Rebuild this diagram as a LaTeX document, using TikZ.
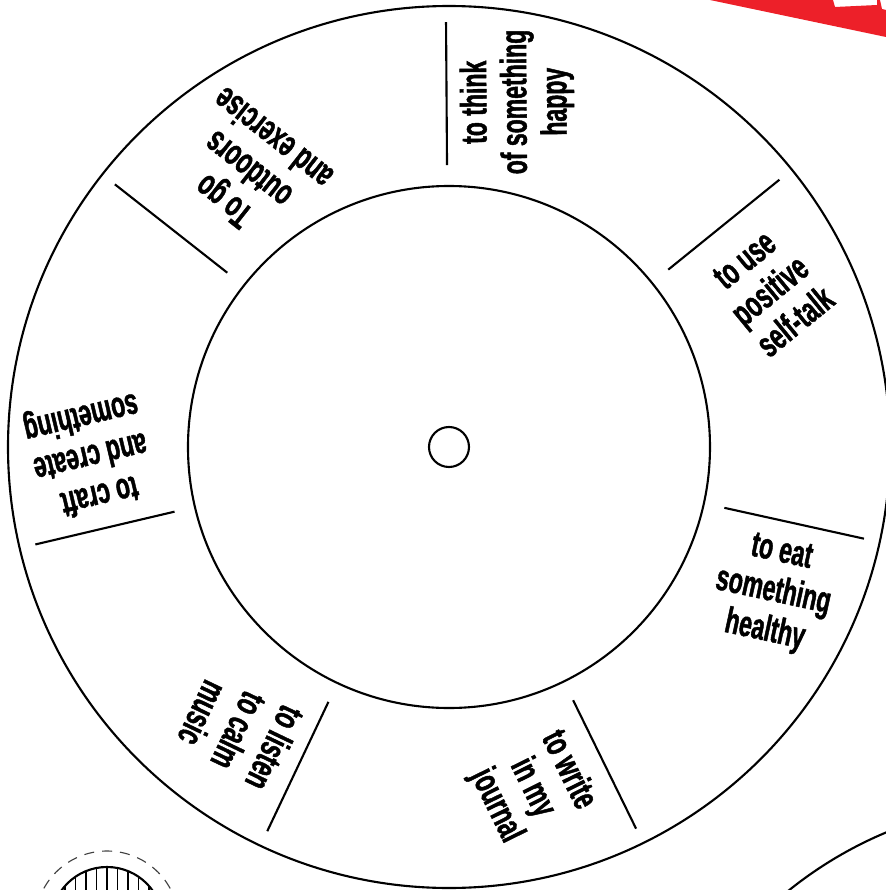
\documentclass[tikz,border=0pt]{standalone}
\usepackage{fontspec}
\newfontfamily\wheelfont[FakeStretch=0.63, FakeBold=1.2]{Liberation Sans Bold}
\usetikzlibrary{positioning}
\definecolor{red-cut}{RGB}{237,32,41}

\begin{document}
\begin{tikzpicture}[x=0.025cm, y=0.025cm, line width=1.5pt,
    lbl/.style={font=\wheelfont\fontsize{26}{28.5}\selectfont, align=center, inner sep=0pt},
    cutline/.style={draw=black!75, line width=0.8pt, dash pattern=on 0.25cm off 0.2cm}]
  \clip (-449,-443) rectangle (437,447);
  % red corner
  \fill[red-cut] (261,447) -- (384,447) -- (386,440) -- (428,442) -- (428,447) -- (431,447)
     -- (433,438) -- (437,437) -- (437,410) -- cycle;
  % wheel
  \coordinate (hub) at (0,0);
  \draw (hub) circle (441);
  \draw (hub) circle (261);
  \draw (hub) circle (20);
  \foreach \k in {0,...,6}
    \draw ({90.4-\k*360/7}:282) -- ({90.4-\k*360/7}:425);
  % labels
  \node[lbl, rotate=90.4] (think) at (68,345) {to think\\of something\\happy};
  \node[lbl, rotate=39.4] (talk) at (321,156) {to use\\positive\\self-talk};
  \node[lbl, rotate=-12.2] (eat) at (324,-146) {to eat\\something\\healthy};
  \node[lbl, rotate=-63.8] (write) at (83,-341) {to write\\in my\\journal};
  \node[lbl, rotate=-115.6] (music) at (-210,-284) {to listen\\to calm\\music};
  \node[lbl, rotate=193.3] (craft) at (-359,-8) {to craft\\and create\\something};
  \node[lbl, rotate=141.8] (outdoors) at (-201,277) {To go\\outdoors\\and exercise};
  % next pieces at the edges
  \draw[cutline] (-342,-476) circle (72);
  \draw (-342,-476) circle (56);
  \begin{scope}
    \clip (-342,-476) circle (56);
    \foreach \i in {-5,...,5}
      \draw[line width=1.1pt] ({-342+\i*10.5},-540) -- ++(0,130);
  \end{scope}
  \draw (594,-760) circle (406);
\end{tikzpicture}
\end{document}
